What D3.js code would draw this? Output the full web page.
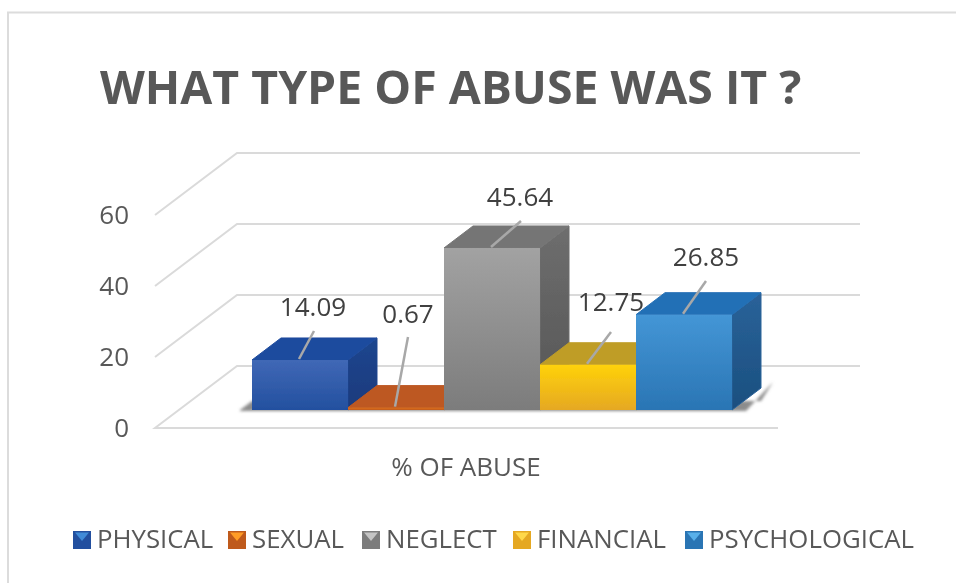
<!DOCTYPE html>
<html><head><meta charset="utf-8">
<script src="https://cdn.jsdelivr.net/npm/d3@7/dist/d3.min.js"></script>
<style>html,body{margin:0;padding:0;background:#fff}svg{display:block}text{font-family:"Open Sans","Noto Sans",sans-serif}</style>
</head><body><svg id="c" width="956" height="583"></svg>
<script>
const categories=["PHYSICAL","SEXUAL","NEGLECT","FINANCIAL","PSYCHOLOGICAL"];
const values=[14.09,0.67,45.64,12.75,26.85];
const valueLabels=["14.09","0.67","45.64","12.75","26.85"];
const yTicks=[0,20,40,60];
const titleText="WHAT TYPE OF ABUSE WAS IT ?";
const axisLabel="% OF ABUSE";
const frontLight=["#4068b6","#e0701f","#a2a2a2","#ffd20a","#4496d6"];
const frontDark=["#23509f","#bf5a1c","#7c7c7c","#e5a823","#2a75b4"];
const topCol=["#1d4b9e","#bd5922","#757575","#bf9d28","#2470b6"];
const sideTop=["#1f468f","#a34a18","#6e6e6e","#a3861f","#2a6299"];
const sideBottom=["#1a3a7c","#943f14","#545454","#95791b","#1a4f7f"];
const swatchLight=["#3f8bd8","#ff9c25","#c4c4c4","#ffd84a","#58b0ea"];
const legendX=[73,228,362,513,685];
const labelPos=[[313,307],[408,314],[520,197],[611,302],[706,257]];
const leaderEnd=[[314,331],[408,337],[521,221],[611,332],[706,281]];

const svg=d3.select("#c");
const y=d3.scaleLinear().domain([0,60]).range([428,215]);
const yBack=d3.scaleLinear().domain([0,60]).range([366,153]);
const x=d3.scaleBand().domain(categories).range([252,732]).padding(0);
const depthX=29,depthY=22,baseY=410;
const hgt=v=>y(0)-y(v);

const defs=svg.append("defs");
categories.forEach((c,i)=>{
  const g=defs.append("linearGradient").attr("id","g"+i).attr("x1",0).attr("y1",0).attr("x2",0).attr("y2",1);
  g.append("stop").attr("offset",0).attr("stop-color",frontLight[i]);
  g.append("stop").attr("offset",1).attr("stop-color",frontDark[i]);
  const s=defs.append("linearGradient").attr("id","sd"+i).attr("x1",0).attr("y1",0).attr("x2",0).attr("y2",1);
  s.append("stop").attr("offset",0).attr("stop-color",sideTop[i]);
  s.append("stop").attr("offset",1).attr("stop-color",sideBottom[i]);
});
const blur=defs.append("filter").attr("id","b").attr("x","-5%").attr("y","-5%").attr("width","110%").attr("height","110%");
blur.append("feGaussianBlur").attr("stdDeviation",0.55);
const sh=defs.append("filter").attr("id","s").attr("x","-20%").attr("y","-50%").attr("width","140%").attr("height","200%");
sh.append("feGaussianBlur").attr("stdDeviation",1.5);

svg.append("path").attr("d","M8 583V12.5H956").attr("fill","none").attr("stroke","#dcdcdc").attr("stroke-width",2);

const main=svg.append("g").attr("filter","url(#b)");
const grid="#dadada";
yTicks.forEach(t=>{
  main.append("path").attr("fill","none").attr("stroke",grid).attr("stroke-width",2)
   .attr("d",t===0
     ?`M778 ${y(0)}H155L237 ${yBack(0)}H860`
     :`M155 ${y(t)}L237 ${yBack(t)}H860`);
});
main.selectAll("text.tick").data(yTicks).join("text").attr("class","tick")
 .attr("x",129).attr("y",d=>y(d)+9).attr("text-anchor","end").attr("font-size",26).attr("fill","#595959").text(d=>d);

const first=x(categories[0]), last=x(categories[4])+x.bandwidth();
main.append("path").attr("d",`M${first-12} ${baseY}L${first} ${baseY-9}H${last+depthX}L${last+depthX+12} ${baseY-depthY-6}L${last+14} ${baseY+1}H${first-12}Z`).attr("fill","#8c8c8c").attr("filter","url(#s)");

const bars=main.selectAll("g.bar").data(categories).join("g").attr("class","bar");
bars.each(function(c,i){
  const g=d3.select(this),x0=x(c),w=x.bandwidth(),h=hgt(values[i]),top=baseY-h,x1=x0+w;
  g.append("path").attr("d",`M${x1} ${baseY}V${top}L${x1+depthX} ${top-depthY}V${baseY-depthY}Z`).attr("fill",`url(#sd${i})`)
   .attr("stroke",sideTop[i]).attr("stroke-width",1).attr("stroke-linejoin","round");
  g.append("path").attr("d",`M${x0} ${top}L${x0+depthX} ${top-depthY}H${x1+depthX}L${x1} ${top}Z`).attr("fill",topCol[i])
   .attr("stroke",topCol[i]).attr("stroke-width",1).attr("stroke-linejoin","round");
  g.append("rect").attr("x",x0).attr("y",top).attr("width",w).attr("height",h).attr("fill",`url(#g${i})`);
});
main.selectAll("line.lead").data(categories).join("line").attr("class","lead")
 .attr("x1",(c,i)=>leaderEnd[i][0]).attr("y1",(c,i)=>leaderEnd[i][1])
 .attr("x2",(c,i)=>x(c)+x.bandwidth()/2-1).attr("y2",(c,i)=>baseY-hgt(values[i])-1)
 .attr("stroke","#a8a8a8").attr("stroke-width",2.5);
main.selectAll("text.val").data(valueLabels).join("text").attr("class","val")
 .attr("x",(d,i)=>labelPos[i][0]).attr("y",(d,i)=>labelPos[i][1]+9).attr("text-anchor","middle")
 .attr("font-size",26).attr("fill","#404040").text(d=>d);
main.append("text").attr("x",466).attr("y",476).attr("text-anchor","middle").attr("font-size",26).attr("fill","#595959").text(axisLabel);
main.append("text").attr("x",100).attr("y",104).attr("font-size",46.4).attr("font-weight",700).attr("fill","#595959").text(titleText);

const lg=main.selectAll("g.leg").data(categories).join("g").attr("class","leg").attr("transform",(d,i)=>`translate(${legendX[i]},531)`);
lg.append("rect").attr("width",18).attr("height",18).attr("fill",(d,i)=>frontDark[i]);
lg.append("path").attr("d","M2 1.5H16L9 10Z").attr("fill",(d,i)=>swatchLight[i]);
lg.append("text").attr("x",24).attr("y",17).attr("font-size",25.8).attr("fill","#595959").text(d=>d);
</script></body></html>
